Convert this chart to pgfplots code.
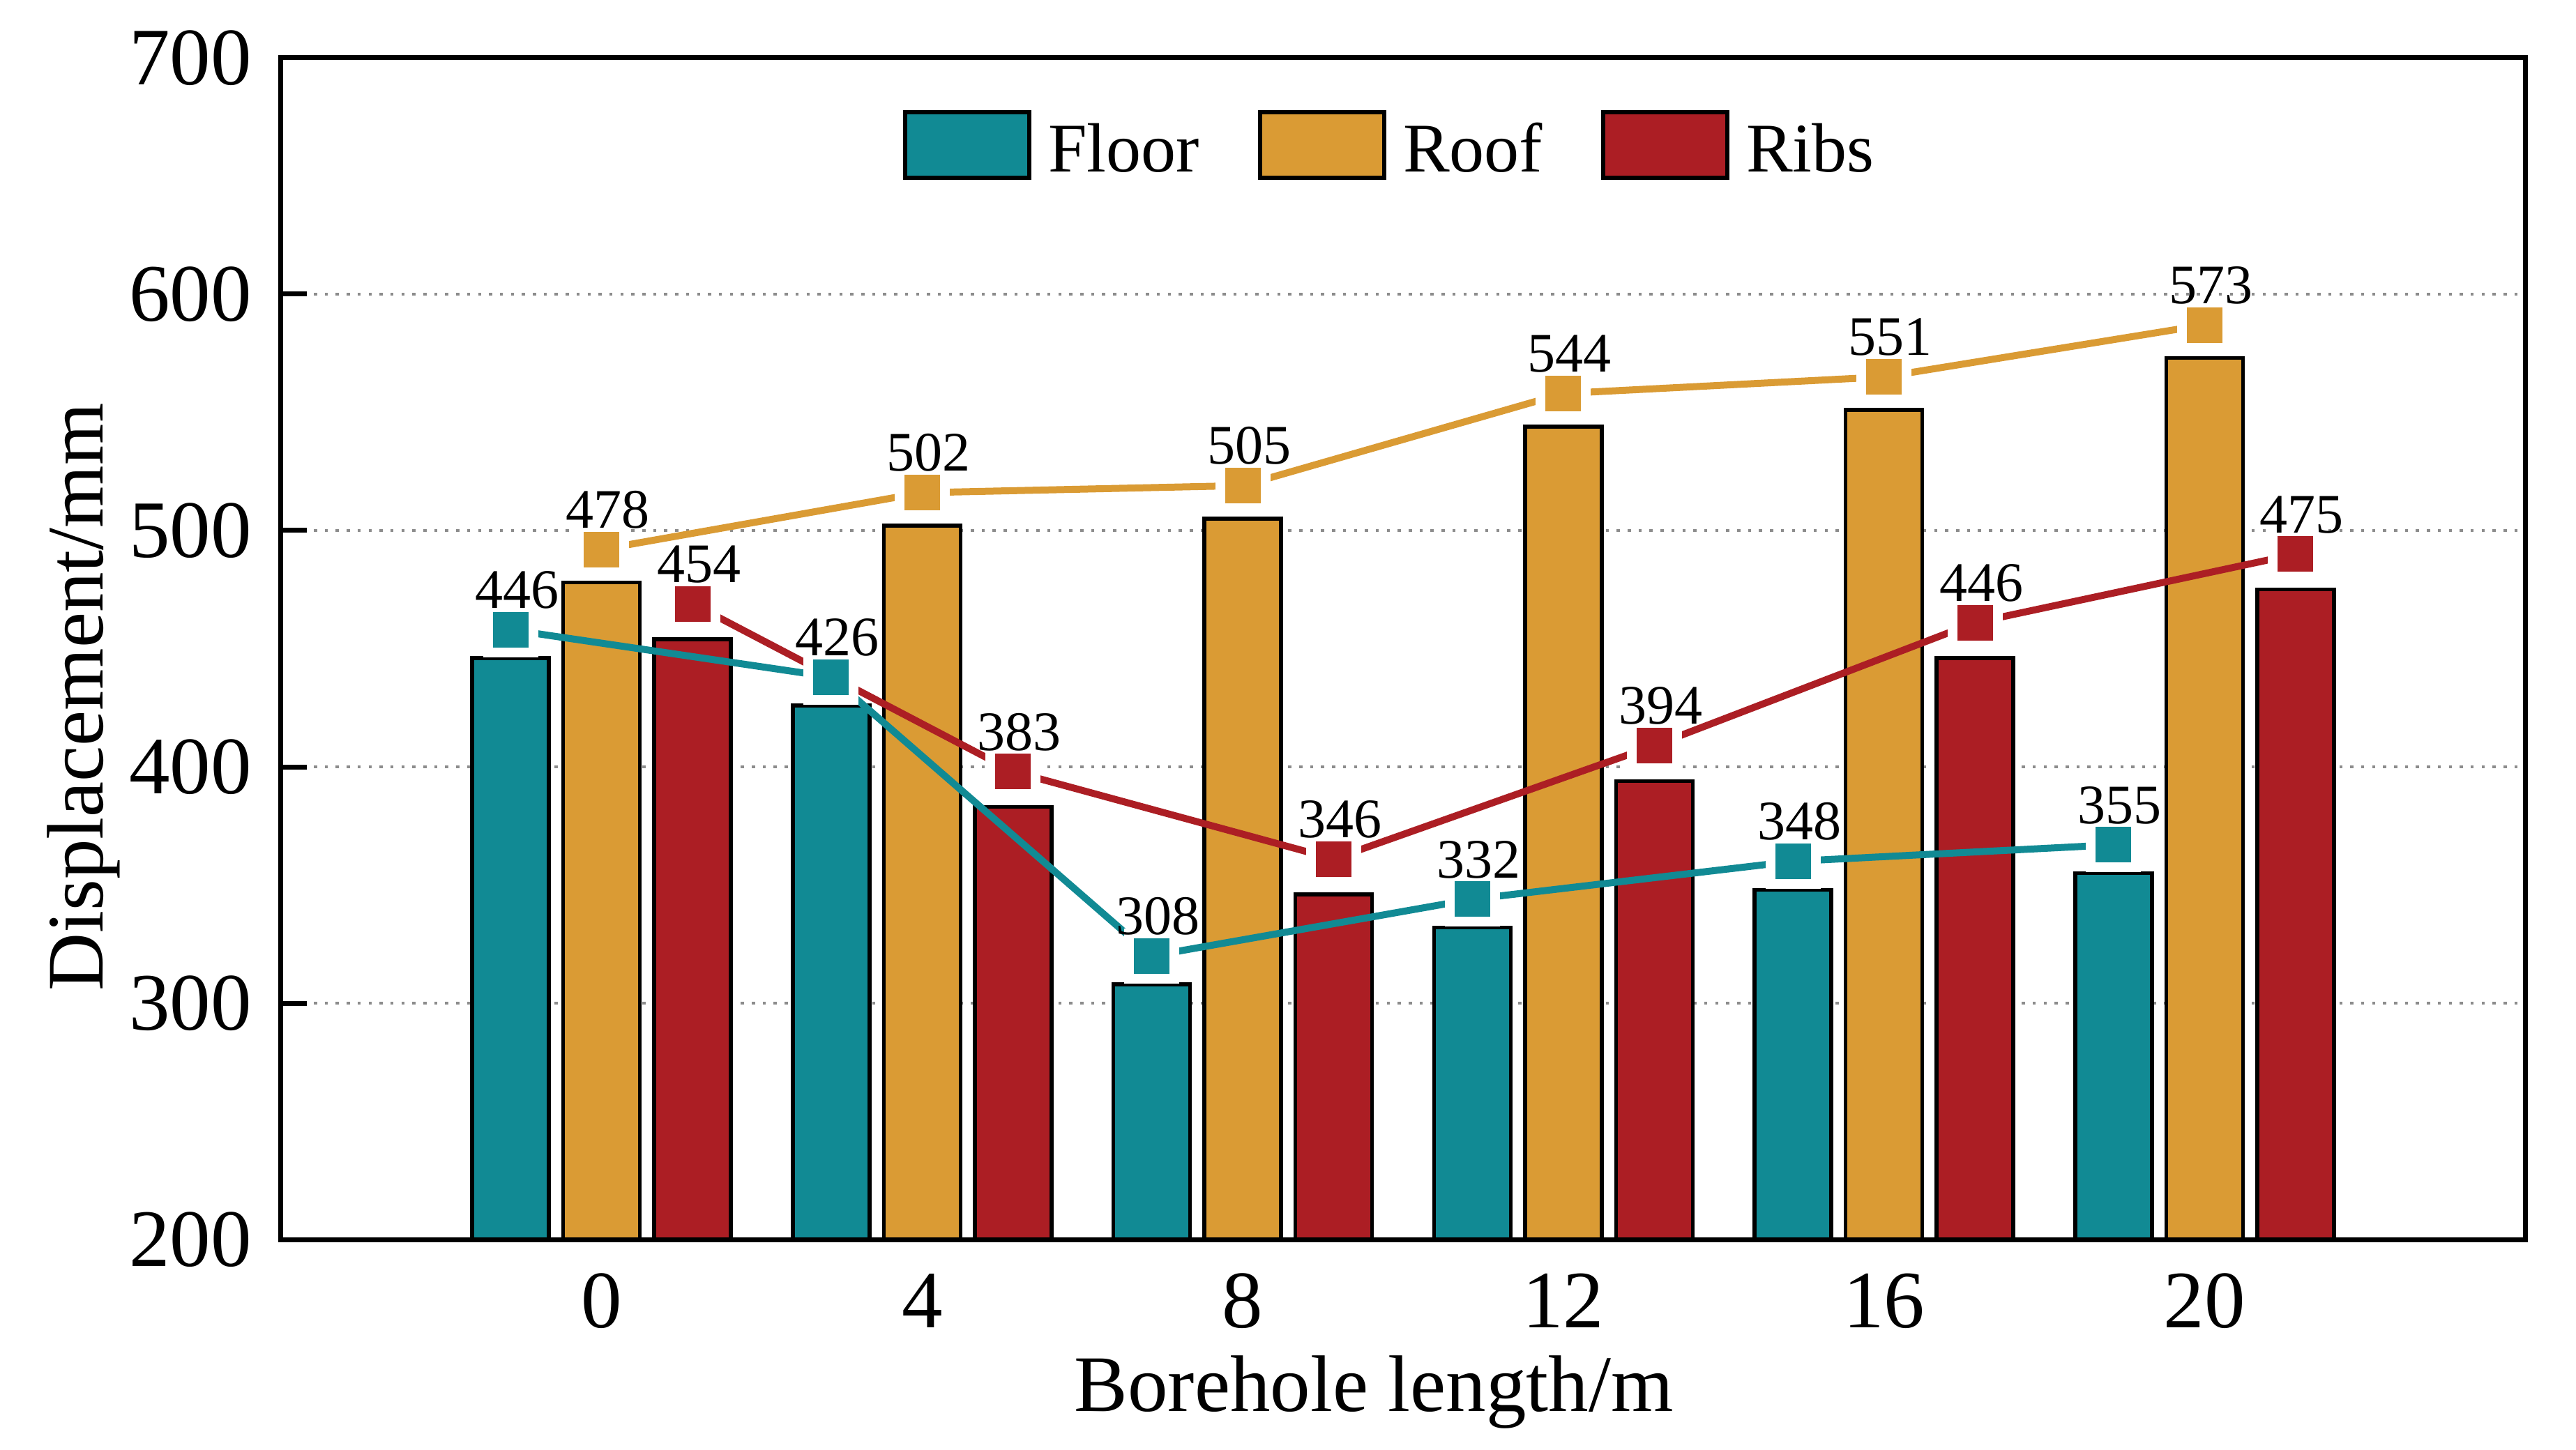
\documentclass[border=0pt]{standalone}
\usepackage{pgfplots}
\pgfplotsset{compat=1.18}
\usepackage{pgfplotstable}
\usepackage{fontspec}
\setmainfont{Liberation Serif}
\definecolor{cFloor}{RGB}{17,138,148}
\definecolor{cRoof}{RGB}{218,155,52}
\definecolor{cRibs}{RGB}{172,30,36}

% x: borehole length; floor/roof/ribs: bar values (labels);
% floorL/roofL/ribsL: height of the line markers
\pgfplotstableread{
x  floor roof ribs floorL roofL ribsL
0  446   478  454  458    492   469
4  426   502  383  438    516   398
8  308   505  346  320    519   361
12 332   544  394  344    558   409
16 348   551  446  360    565   461
20 355   573  475  367    587   490
}\datatable

\pgfplotsset{
  swatch/.style={legend image code/.code={\draw[##1, line width=0.6bp] (0bp,-1.9bp) rectangle (17.8bp,7.5bp);}},
  lbl/.style={forget plot, draw=none, mark=none, nodes near coords, point meta=explicit,
    nodes near coords style={font=\fontsize{8bp}{9.6bp}\selectfont, anchor=south, inner sep=0pt, yshift=2.8bp, xshift=0.9bp, text=black}},
  halo/.style={forget plot, white, only marks, mark=square*, mark size=3.9bp, mark options={solid, fill=white, draw=white, line width=0pt}},
  dot/.style={forget plot, #1, only marks, mark=square*, mark size=2.5bp, mark options={solid, fill=#1, draw=#1, line width=0pt}},
  ln/.style={forget plot, #1, line width=1bp, mark=none},
}
\newcommand{\legtxt}[1]{\raisebox{3.4bp}{#1}}

\begin{document}
\begin{tikzpicture}
\begin{axis}[
  scale only axis, width=321.8bp, height=169.5bp,
  xmin=-4, xmax=24, ymin=200, ymax=700,
  xtick={0,4,...,20}, ytick={200,300,...,700},
  ytick pos=left, tick align=inside, major tick length=3.7bp,
  x tick style={draw=none},
  y tick style={black, line width=0.7bp},
  axis line style={line width=0.7bp},
  ymajorgrids,
  grid style={black!45, line width=0.45bp, dash pattern=on 0.45bp off 1.12bp},
  /pgf/number format/assume math mode=true,
  ticklabel style={font=\fontsize{11.7bp}{13bp}\selectfont},
  xticklabel style={anchor=base, yshift=-12.6bp, inner sep=0pt},
  yticklabel style={anchor=east, inner sep=0pt, xshift=-4bp},
  xlabel={Borehole length/m}, ylabel={Displacement/mm},
  every axis x label/.style={at={(rel axis cs:0.487,0)}, anchor=base, yshift=-24.6bp, font=\fontsize{11.5bp}{13bp}\selectfont},
  every axis y label/.style={at={(rel axis cs:0,0.459)}, xshift=-28.3bp, rotate=90, anchor=center, font=\fontsize{11.5bp}{13bp}\selectfont},
  legend columns=3,
  legend cell align=left,
  legend style={draw=none, fill=none, at={(0.4936,0.915)}, anchor=center,
    font=\fontsize{10bp}{11bp}\selectfont, inner sep=0pt, outer sep=0pt,
    nodes={inner sep=0pt},
    /tikz/every odd column/.append style={column sep=2.4bp},
    /tikz/every even column/.append style={column sep=8.4bp}},
]
\addplot[ybar, bar width=11bp, bar shift=-13.05bp, fill=cFloor, draw=black, line width=0.55bp, swatch] table[x=x, y=floor]{\datatable};
\addplot[ybar, bar width=11bp, bar shift=0bp, fill=cRoof, draw=black, line width=0.55bp, swatch] table[x=x, y=roof]{\datatable};
\addplot[ybar, bar width=11bp, bar shift=13.05bp, fill=cRibs, draw=black, line width=0.55bp, swatch] table[x=x, y=ribs]{\datatable};
\legend{\legtxt{Floor}, \legtxt{Roof}, \legtxt{Ribs}}

% Floor line
\addplot[ln=cFloor] table[x expr=\thisrow{x}-1.1355, y=floorL]{\datatable};
\addplot[halo] table[x expr=\thisrow{x}-1.1355, y=floorL]{\datatable};
\addplot[dot=cFloor] table[x expr=\thisrow{x}-1.1355, y=floorL]{\datatable};
% Roof line
\addplot[ln=cRoof] table[x=x, y=roofL]{\datatable};
\addplot[halo] table[x=x, y=roofL]{\datatable};
\addplot[dot=cRoof] table[x=x, y=roofL]{\datatable};
% Ribs line
\addplot[ln=cRibs] table[x expr=\thisrow{x}+1.1355, y=ribsL]{\datatable};
\addplot[halo] table[x expr=\thisrow{x}+1.1355, y=ribsL]{\datatable};
\addplot[dot=cRibs] table[x expr=\thisrow{x}+1.1355, y=ribsL]{\datatable};

% value labels
\addplot[lbl] table[x expr=\thisrow{x}-1.1355, y=floorL, meta=floor]{\datatable};
\addplot[lbl] table[x=x, y=roofL, meta=roof]{\datatable};
\addplot[lbl] table[x expr=\thisrow{x}+1.1355, y=ribsL, meta=ribs]{\datatable};
\end{axis}
\pgfresetboundingbox
\path[use as bounding box] (-40.3bp,-30.2bp) rectangle (329.1bp,177.8bp);
\end{tikzpicture}
\end{document}
